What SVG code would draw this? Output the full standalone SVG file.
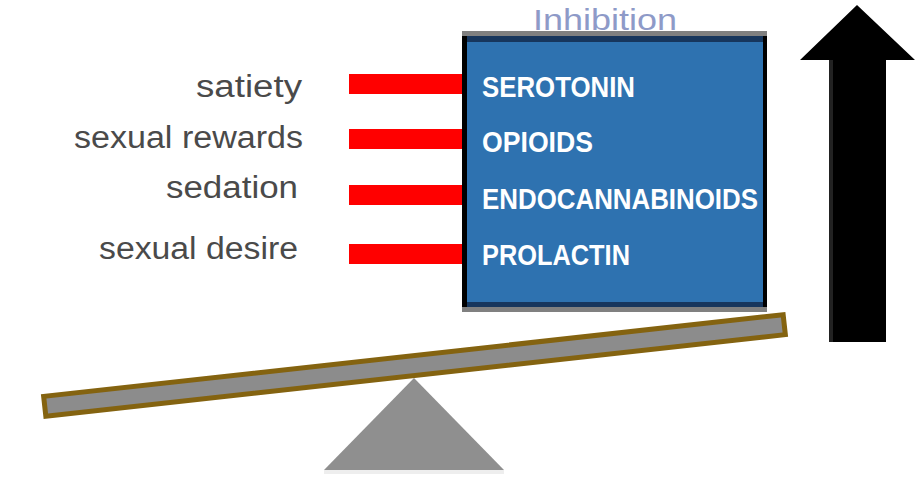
<svg xmlns="http://www.w3.org/2000/svg" width="916" height="485" viewBox="0 0 916 485">
  <style>
    .lbl { font-family: "Liberation Sans", Arial, sans-serif; font-size: 31px; fill: #4a4a4a; text-anchor: start; }
    .in { font-family: "Liberation Sans", Arial, sans-serif; font-size: 29px; font-weight: bold; fill: #ffffff; }
    .title { font-family: "Liberation Sans", Arial, sans-serif; font-size: 29px; fill: #8e9ac8; }
    .bar { fill: #ff0000; }
  </style>
  <rect width="916" height="485" fill="#ffffff"/>

  <g id="title">
    <text class="title" x="533" y="30" textLength="144" lengthAdjust="spacingAndGlyphs">Inhibition</text>
  </g>

  <g id="inhibition-box">
    <rect x="462" y="31" width="305" height="281" fill="#2e72b0"/>
    <rect x="467" y="36" width="296" height="6" fill="#17365d"/>
    <rect x="467" y="302" width="296" height="5" fill="#17365d"/>
    <rect x="462" y="31" width="305" height="5" fill="#808080"/>
    <rect x="462" y="307" width="305" height="5" fill="#808080"/>
    <rect x="462" y="36" width="5" height="271" fill="#000000"/>
    <rect x="763" y="36" width="4" height="271" fill="#000000"/>
    <text class="in" x="482" y="97" textLength="153" lengthAdjust="spacingAndGlyphs">SEROTONIN</text>
    <text class="in" x="482" y="152" textLength="111" lengthAdjust="spacingAndGlyphs">OPIOIDS</text>
    <text class="in" x="482" y="209" textLength="276" lengthAdjust="spacingAndGlyphs">ENDOCANNABINOIDS</text>
    <text class="in" x="482" y="265" textLength="148" lengthAdjust="spacingAndGlyphs">PROLACTIN</text>
  </g>

  <g id="label-satiety">
    <text class="lbl" x="196" y="97" textLength="106" lengthAdjust="spacingAndGlyphs">satiety</text>
  </g>
  <g id="label-sexual-rewards">
    <text class="lbl" x="74" y="148" textLength="229" lengthAdjust="spacingAndGlyphs">sexual rewards</text>
  </g>
  <g id="label-sedation">
    <text class="lbl" x="166" y="198" textLength="132" lengthAdjust="spacingAndGlyphs">sedation</text>
  </g>
  <g id="label-sexual-desire">
    <text class="lbl" x="99" y="259" textLength="199" lengthAdjust="spacingAndGlyphs">sexual desire</text>
  </g>

  <g id="connectors">
    <rect class="bar" x="349" y="74" width="113" height="20"/>
    <rect class="bar" x="349" y="129" width="113" height="20"/>
    <rect class="bar" x="349" y="185" width="113" height="20"/>
    <rect class="bar" x="349" y="244" width="113" height="20"/>
  </g>

  <g id="arrow">
    <polygon points="857,5 915,60 886,60 886,342 829,342 829,60 800,60" fill="#000000"/>
    <rect x="829" y="60" width="4" height="282" fill="#222222"/>
  </g>

  <g id="seesaw">
    <polygon points="324,470 504,470 414,378" fill="#8f8f8f"/>
    <rect x="324" y="470" width="180" height="4" fill="#eeeeee"/>
    <rect x="-372" y="-10" width="744" height="20" fill="#8c8c8c" stroke="#846310" stroke-width="5" transform="translate(414.5 365.5) rotate(-6.3)"/>
  </g>
</svg>
